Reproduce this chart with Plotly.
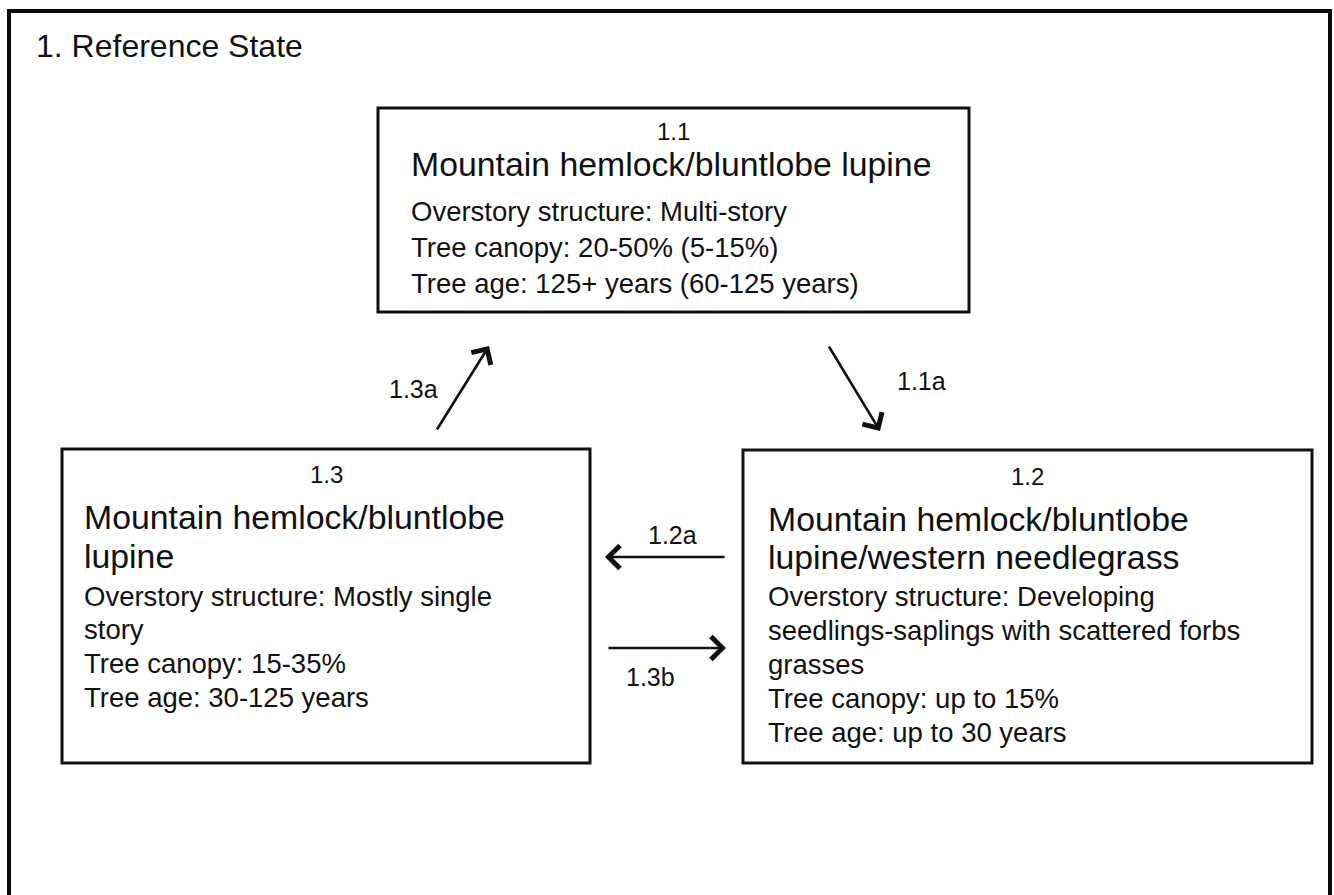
import plotly.graph_objects as go

# ---------------- data (text content) ----------------
panel_title = "1. Reference State"
state_ids = ["1.1", "1.2", "1.3"]
state_names = [
    ["Mountain hemlock/bluntlobe lupine"],
    ["Mountain hemlock/bluntlobe", "lupine/western needlegrass"],
    ["Mountain hemlock/bluntlobe", "lupine"],
]
state_details = [
    ["Overstory structure: Multi-story",
     "Tree canopy: 20-50% (5-15%)",
     "Tree age: 125+ years (60-125 years)"],
    ["Overstory structure: Developing",
     "seedlings-saplings with scattered forbs",
     "grasses",
     "Tree canopy: up to 15%",
     "Tree age: up to 30 years"],
    ["Overstory structure: Mostly single",
     "story",
     "Tree canopy: 15-35%",
     "Tree age: 30-125 years"],
]
transition_labels = ["1.1a", "1.2a", "1.3a", "1.3b"]

# ---------------- layout geometry (pixels, y downwards) ----------------
W, H = 1334, 895
FONT = "Arial, Liberation Sans, sans-serif"
INK = "#111111"

frame = dict(x0=9, x1=1330, y0=11, y1=900)
title_pos = (34, 46)

box_geom = {
    "1.1": dict(x0=378, x1=969, y0=108, y1=312, id_y=131, text_x=409,
                name_y=[164], det_y=[211, 247, 283]),
    "1.2": dict(x0=743, x1=1312, y0=450, y1=763, id_y=476, text_x=766,
                name_y=[519, 557], det_y=[596, 630, 664, 698, 732]),
    "1.3": dict(x0=62, x1=590, y0=449, y1=763, id_y=474, text_x=82,
                name_y=[517, 556], det_y=[596, 629, 663, 697]),
}

# arrows: (tail x, tail y, head x, head y), label centre (x, y)
arrow_geom = {
    "1.1a": dict(tail=(828, 345), head=(880, 431), lab=(921, 381)),
    "1.2a": dict(tail=(726, 557), head=(605, 557), lab=(672, 535)),
    "1.3a": dict(tail=(436, 431), head=(489, 346), lab=(413, 389)),
    "1.3b": dict(tail=(607, 648), head=(726, 648), lab=(650, 677)),
}

NAME_SIZE, DET_SIZE, ID_SIZE, TITLE_SIZE, LAB_SIZE = 33.8, 27.5, 24, 32, 25

fig = go.Figure()
# invisible trace so the axes exist
fig.add_trace(go.Scatter(x=[0, W], y=[0, H], mode="markers",
                         marker=dict(opacity=0), hoverinfo="skip", showlegend=False))

shapes = []
annotations = []

# outer frame
shapes.append(dict(type="rect", xref="x", yref="y", **frame,
                   line=dict(color="#0a0a0a", width=4), fillcolor="rgba(0,0,0,0)"))
annotations.append(dict(x=title_pos[0], y=title_pos[1], xref="x", yref="y",
                        text=panel_title, showarrow=False, xanchor="left", yanchor="middle",
                        font=dict(family=FONT, size=TITLE_SIZE, color=INK)))

for sid, names, details in zip(state_ids, state_names, state_details):
    g = box_geom[sid]
    shapes.append(dict(type="rect", xref="x", yref="y",
                       x0=g["x0"], x1=g["x1"], y0=g["y0"], y1=g["y1"],
                       line=dict(color="#111111", width=3), fillcolor="white"))
    annotations.append(dict(x=(g["x0"] + g["x1"]) / 2, y=g["id_y"], xref="x", yref="y",
                            text=sid, showarrow=False, xanchor="center", yanchor="middle",
                            font=dict(family=FONT, size=ID_SIZE, color=INK)))
    for txt, yy in zip(names, g["name_y"]):
        annotations.append(dict(x=g["text_x"], y=yy, xref="x", yref="y", text=txt,
                                showarrow=False, xanchor="left", yanchor="middle",
                                font=dict(family=FONT, size=NAME_SIZE, color=INK)))
    for txt, yy in zip(details, g["det_y"]):
        annotations.append(dict(x=g["text_x"], y=yy, xref="x", yref="y", text=txt,
                                showarrow=False, xanchor="left", yanchor="middle",
                                font=dict(family=FONT, size=DET_SIZE, color=INK)))

for lab in transition_labels:
    a = arrow_geom[lab]
    annotations.append(dict(x=a["head"][0], y=a["head"][1], ax=a["tail"][0], ay=a["tail"][1],
                            xref="x", yref="y", axref="x", ayref="y", text="",
                            showarrow=True, arrowhead=4, arrowsize=1.7, arrowwidth=2.6,
                            arrowcolor="#111111", standoff=0, startstandoff=0))
    annotations.append(dict(x=a["lab"][0], y=a["lab"][1], xref="x", yref="y", text=lab,
                            showarrow=False, xanchor="center", yanchor="middle",
                            font=dict(family=FONT, size=LAB_SIZE, color=INK)))

fig.update_layout(
    width=W, height=H,
    margin=dict(l=0, r=0, t=0, b=0),
    paper_bgcolor="white", plot_bgcolor="white",
    xaxis=dict(range=[0, W], visible=False, fixedrange=True),
    yaxis=dict(range=[H, 0], visible=False, fixedrange=True),
    shapes=shapes, annotations=annotations, showlegend=False,
)

# remove the default page margin so the figure fills the window exactly
fig.write_html(
    "out.html",
    config={"displayModeBar": False, "staticPlot": True},
    post_script="document.body.style.margin='0';document.body.style.overflow='hidden';",
)
